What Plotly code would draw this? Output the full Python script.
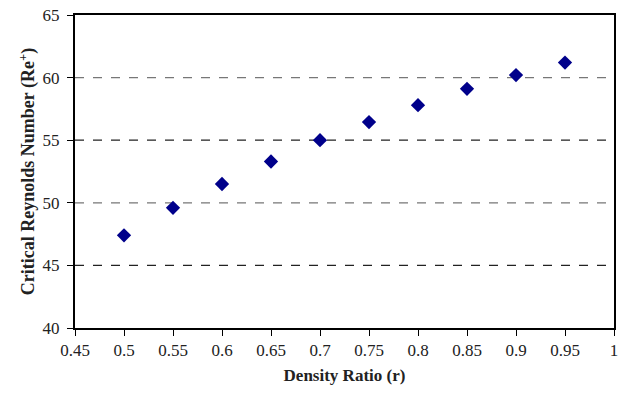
import plotly.graph_objects as go

density_ratio = [0.5, 0.55, 0.6, 0.65, 0.7, 0.75, 0.8, 0.85, 0.9, 0.95]
critical_re = [47.4, 49.6, 51.5, 53.3, 55.0, 56.45, 57.8, 59.1, 60.2, 61.2]

x_ticks = [0.45, 0.5, 0.55, 0.6, 0.65, 0.7, 0.75, 0.8, 0.85, 0.9, 0.95, 1.0]
x_tick_labels = ["0.45", "0.5", "0.55", "0.6", "0.65", "0.7", "0.75", "0.8", "0.85", "0.9", "0.95", "1"]
y_ticks = [40, 45, 50, 55, 60, 65]
dark_grid = [45, 55]
light_grid = [50, 60]

fig = go.Figure()
fig.add_trace(go.Scatter(
    x=density_ratio, y=critical_re, mode="markers",
    marker=dict(symbol="diamond", size=11, color="#00008B"),
    showlegend=False,
))

shapes = []
for g in dark_grid:
    shapes.append(dict(type="line", xref="paper", yref="y", x0=0, x1=1, y0=g, y1=g,
                       line=dict(color="#222222", width=1.2, dash="dash"), layer="below"))
for g in light_grid:
    shapes.append(dict(type="line", xref="paper", yref="y", x0=0, x1=1, y0=g, y1=g,
                       line=dict(color="#777777", width=1.2, dash="dash"), layer="below"))

font_family = "Liberation Serif"
fig.update_layout(
    width=628, height=395,
    margin=dict(l=75, r=14, t=15, b=67, autoexpand=False),
    plot_bgcolor="white", paper_bgcolor="white",
    font=dict(family=font_family, size=17, color="#222222"),
    shapes=shapes,
    xaxis=dict(
        range=[0.45, 1.0], tickvals=x_ticks, ticktext=x_tick_labels,
        showgrid=False, zeroline=False, showline=True, linecolor="black", linewidth=2,
        mirror=True, ticks="outside", ticklen=6, tickcolor="black", automargin=False,
        tickfont=dict(family=font_family, size=17),
        title=dict(text="<b>Density Ratio (r)</b>", font=dict(family=font_family, size=17), standoff=10),
    ),
    yaxis=dict(
        range=[40, 65], tickvals=y_ticks,
        showgrid=False, zeroline=False, showline=True, linecolor="black", linewidth=2,
        mirror=True, ticks="outside", ticklen=6, tickcolor="black", automargin=False,
        ticklabelstandoff=4,
        tickfont=dict(family=font_family, size=17),
        title=dict(text="<b>Critical Reynolds Number (Re<sup>+</sup>)</b>", font=dict(family=font_family, size=18), standoff=3),
    ),
)

fig.write_html("out.html", config={"displayModeBar": False},
               post_script="document.body.style.margin='0';document.body.style.padding='0';")
